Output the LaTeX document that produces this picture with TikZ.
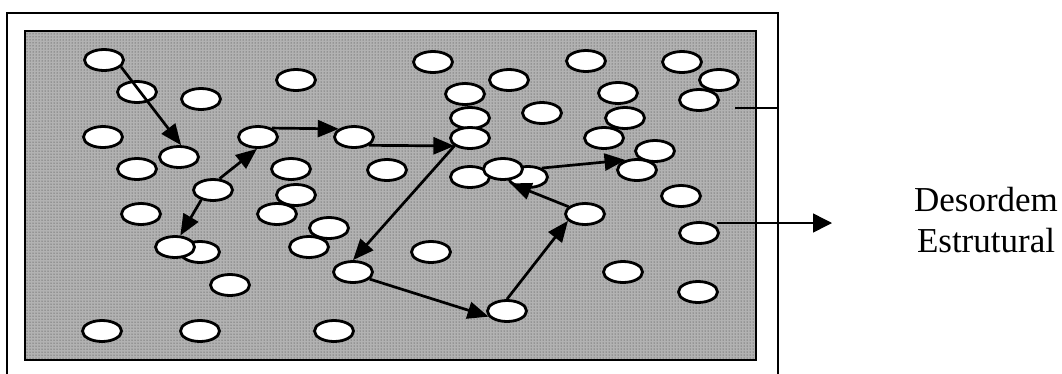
\documentclass[tikz,border=0pt]{standalone}
\usepackage{fontspec}
\setmainfont{Liberation Serif}
\usetikzlibrary{shapes.geometric,arrows.meta,patterns}
\tikzset{
  grain/.style={ellipse,draw=black,fill=white,line width=2.8pt,
    minimum width=39pt,minimum height=21pt,inner sep=0pt},
  hop/.style={line width=2.7pt,-{Triangle[length=21pt,width=17pt]}},
  frame/.style={line width=2pt},
  lead/.style={line width=1.5pt}
}
\begin{document}
\begin{tikzpicture}[x=1pt,y=-1pt]
\useasboundingbox (0,0) rectangle (1062,373);
\fill[white] (0,0) rectangle (1062,373);
% outer frame (open at the bottom edge of the page)
\draw[frame] (7,400) -- (7,13) -- (778,13) -- (778,400);
% stippled sample region
\fill[black!30] (25,31) rectangle (756,360);
\fill[pattern=dots,pattern color=black!80] (25,31) rectangle (756,360);
\draw[frame] (25,31) rectangle (756,360);

% grains
\foreach \n/\x/\y in {
  1/104/60, 2/137/92, 3/201/99, 4/296/80, 5/103/137, 6/179/157,
  7/258/137, 8/354/137, 9/137/169, 10/291/169, 11/213/190,
  13/296/195, 14/141/214, 15/277/214, 16/329/228, 18/200/252,
  17/175/247, 19/309/247, 20/353/272, 21/230/285, 22/102/331,
  23/200/331, 24/334/331, 25/433/62, 26/509/80, 27/465/94,
  28/586/61, 29/682/62, 30/719/80, 31/699/100, 32/618/93,
  33/542/113, 34/470/118, 35/625/118, 36/470/138, 37/604/138,
  38/655/151, 39/387/170, 42/528/177, 40/470/177, 41/503/169,
  43/637/170, 44/681/196, 45/585/214, 47/699/233, 48/431/252,
  49/623/272, 50/698/292, 51/507/311}
  \node[grain] (e\n) at (\x,\y) {};

% diffusion path
\draw[hop] (e1.-22)  -- (e6.80);
\draw[hop] (e11.60)  -- (e7.-95);
\draw[hop] (e11.-140) -- (e17.65);
\draw[hop] (e7.33)   -- (e8.152);
\draw[hop] (e8.-29)  -- (e36.-153);
\draw[hop] (e36.-153) -- (e20.90);
\draw[hop] (e20.-23) -- (e51.-163);
\draw[hop] (e51.90)  -- (e45.-158);
\draw[hop] (e45.156) -- (e42.-160);
\draw[hop] (e42.33)  -- (e43.139);

% label lead lines
\coordinate (t1) at (735,108);
\coordinate (t2) at (778,108);
\coordinate (a1) at (717,223);
\coordinate (a2) at (832,223);
\draw[lead] (t1) -- (t2);
\draw[lead,-{Triangle[length=19pt,width=19pt]}] (a1) -- (a2);

\node[align=center,font=\fontsize{35}{41}\selectfont] (lbl) at (986,220)
  {Desordem\\Estrutural};
\end{tikzpicture}
\end{document}
